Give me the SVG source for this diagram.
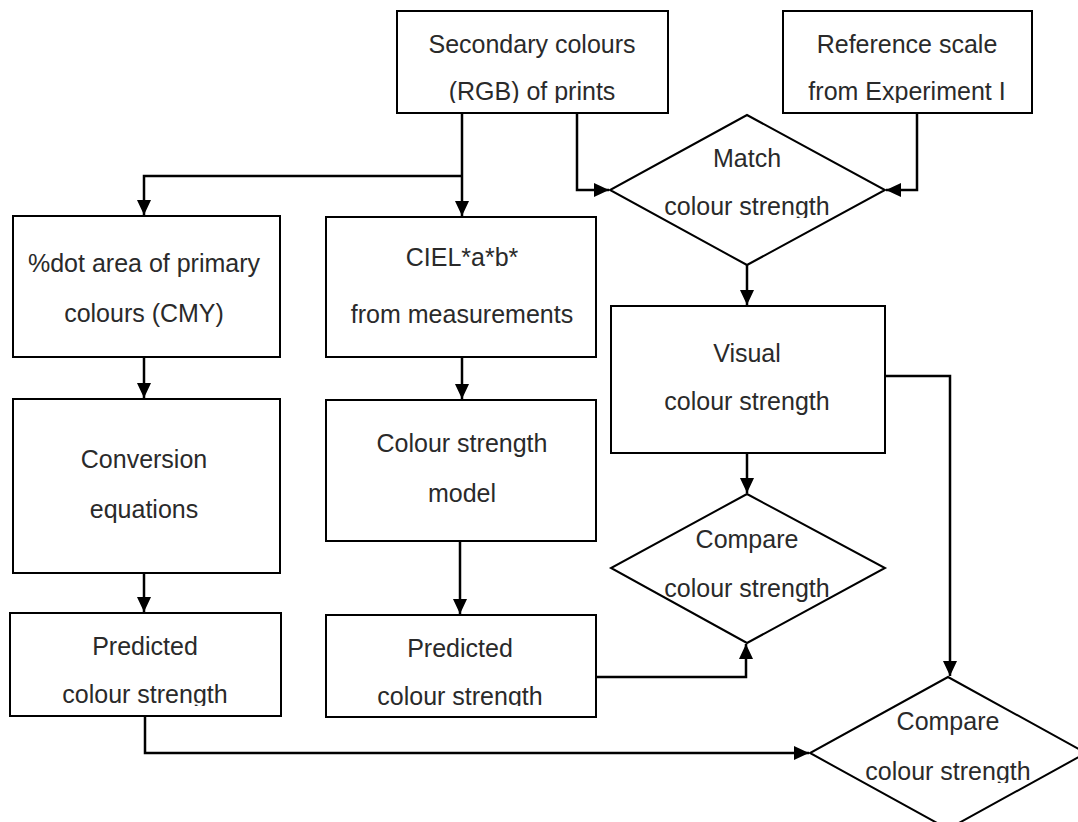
<svg xmlns="http://www.w3.org/2000/svg" width="1078" height="822" viewBox="0 0 1078 822">
<style>
.box{fill:#fff;stroke:#000;stroke-width:2}
.t{font-family:"Liberation Sans",Arial,sans-serif;font-size:25px;fill:#2a2a2a;text-anchor:middle}
.c{fill:none;stroke:#000;stroke-width:2.5}
</style>
<defs>
<marker id="ah" viewBox="0 0 15 14" refX="15" refY="7" markerWidth="15" markerHeight="14" orient="auto" markerUnits="userSpaceOnUse">
<path d="M0,0 L15,7 L0,14 z" fill="#000"/>
</marker>
<clipPath id="cp1"><rect x="0" y="0" width="1078" height="103"/></clipPath>
<clipPath id="cp2"><rect x="0" y="0" width="1078" height="218"/></clipPath>
<clipPath id="cp3"><rect x="0" y="0" width="1078" height="706"/></clipPath>
<clipPath id="cp4"><rect x="0" y="0" width="1078" height="783"/></clipPath>
</defs>
<rect width="1078" height="822" fill="#fff"/>
<g id="connectors">
<path class="c" d="M462,113 V216" marker-end="url(#ah)"/>
<path class="c" d="M462,176 H144 V215" marker-end="url(#ah)"/>
<path class="c" d="M577,113 V190 H609" marker-end="url(#ah)"/>
<path class="c" d="M917,113 V190 H886" marker-end="url(#ah)"/>
<path class="c" d="M747,265 V305" marker-end="url(#ah)"/>
<path class="c" d="M144,357 V398" marker-end="url(#ah)"/>
<path class="c" d="M462,357 V399" marker-end="url(#ah)"/>
<path class="c" d="M144,573 V612" marker-end="url(#ah)"/>
<path class="c" d="M460,541 V614" marker-end="url(#ah)"/>
<path class="c" d="M747,453 V493" marker-end="url(#ah)"/>
<path class="c" d="M885,376 H950 V676" marker-end="url(#ah)"/>
<path class="c" d="M596,677 H746 V644" marker-end="url(#ah)"/>
<path class="c" d="M145,716 V753 H809" marker-end="url(#ah)"/>
</g>
<g id="n-secondary">
<rect class="box" x="397" y="11" width="271" height="102"/>
<g clip-path="url(#cp1)">
<text class="t" x="532" y="53">Secondary colours</text>
<text class="t" x="532" y="100">(RGB) of prints</text>
</g>
</g>
<g id="n-reference">
<rect class="box" x="783" y="11" width="249" height="102"/>
<g clip-path="url(#cp1)">
<text class="t" x="907" y="53">Reference scale</text>
<text class="t" x="907" y="100">from Experiment I</text>
</g>
</g>
<g id="n-match">
<polygon class="box" points="747,115 885,190 747,265 610,190"/>
<text class="t" x="747" y="167">Match</text>
<g clip-path="url(#cp2)">
<text class="t" x="747" y="215">colour strength</text>
</g>
</g>
<g id="n-dot">
<rect class="box" x="13" y="216" width="267" height="141"/>
<text class="t" x="144" y="272">%dot area of primary</text>
<text class="t" x="144" y="322">colours (CMY)</text>
</g>
<g id="n-ciel">
<rect class="box" x="326" y="217" width="270" height="140"/>
<text class="t" x="462" y="266">CIEL*a*b*</text>
<text class="t" x="462" y="323">from measurements</text>
</g>
<g id="n-visual">
<rect class="box" x="611" y="306" width="274" height="147"/>
<text class="t" x="747" y="362">Visual</text>
<text class="t" x="747" y="410">colour strength</text>
</g>
<g id="n-conversion">
<rect class="box" x="13" y="399" width="267" height="174"/>
<text class="t" x="144" y="468">Conversion</text>
<text class="t" x="144" y="518">equations</text>
</g>
<g id="n-model">
<rect class="box" x="326" y="400" width="270" height="141"/>
<text class="t" x="462" y="452">Colour strength</text>
<text class="t" x="462" y="502">model</text>
</g>
<g id="n-compare1">
<polygon class="box" points="747,494 885,568 747,643 611,568"/>
<text class="t" x="747" y="548">Compare</text>
<text class="t" x="747" y="597">colour strength</text>
</g>
<g id="n-pred1">
<rect class="box" x="10" y="613" width="271" height="103"/>
<g clip-path="url(#cp3)">
<text class="t" x="145" y="655">Predicted</text>
<text class="t" x="145" y="703">colour strength</text>
</g>
</g>
<g id="n-pred2">
<rect class="box" x="326" y="615" width="270" height="102"/>
<g clip-path="url(#cp3)">
<text class="t" x="460" y="657">Predicted</text>
<text class="t" x="460" y="705">colour strength</text>
</g>
</g>
<g id="n-compare2">
<polygon class="box" points="948,677 1086,753 948,829 810,753"/>
<text class="t" x="948" y="730">Compare</text>
<g clip-path="url(#cp4)">
<text class="t" x="948" y="780">colour strength</text>
</g>
</g>
</svg>
